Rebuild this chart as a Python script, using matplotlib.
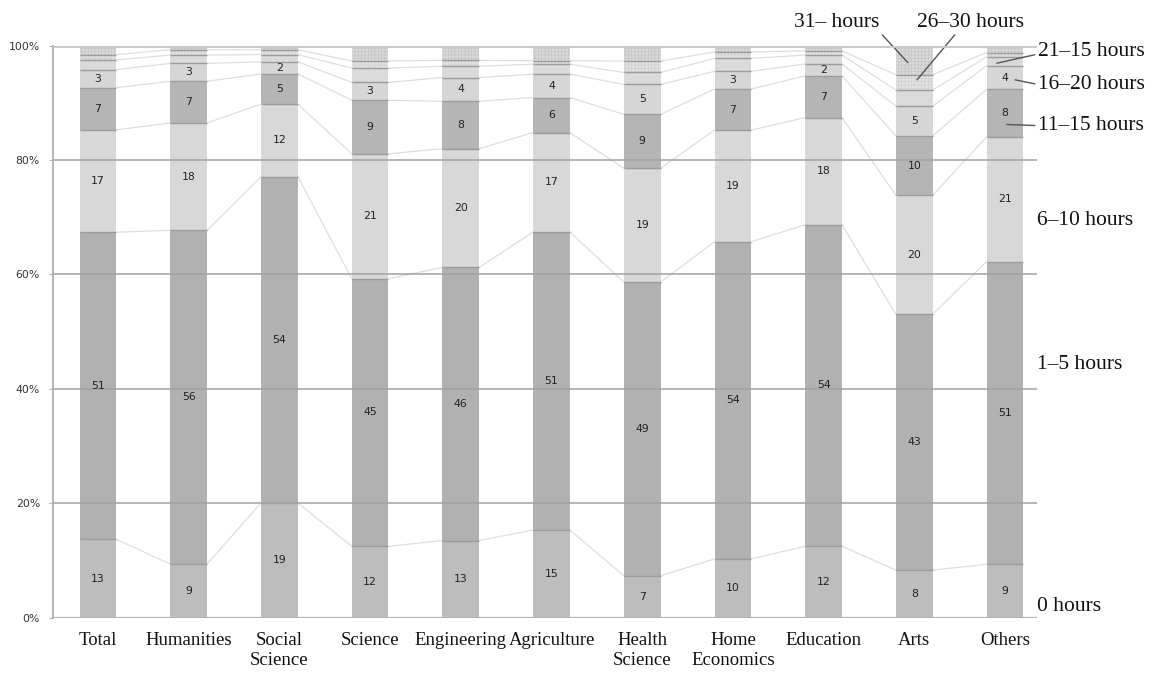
import matplotlib
matplotlib.use("Agg")
import matplotlib.pyplot as plt
import numpy as np
from matplotlib.transforms import blended_transform_factory

# ---- data ----
categories = ["Total", "Humanities", "Social\nScience", "Science", "Engineering",
              "Agriculture", "Health\nScience", "Home\nEconomics", "Education",
              "Arts", "Others"]
h0 = [13, 9, 19, 12, 13, 15, 7, 10, 12, 8, 9]
h1_5 = [51, 56, 54, 45, 46, 51, 49, 54, 54, 43, 51]
h6_10 = [17, 18, 12, 21, 20, 17, 19, 19, 18, 20, 21]
h11_15 = [7, 7, 5, 9, 8, 6, 9, 7, 7, 10, 8]
h16_20 = [3, 3, 2, 3, 4, 4, 5, 3, 2, 5, 4]
h21_25 = [1.6, 1.4, 1.2, 2.4, 1.9, 1.7, 2.0, 2.2, 1.5, 2.7, 1.5]
h26_30 = [0.9, 0.9, 0.8, 1.2, 1.0, 0.6, 1.9, 1.1, 0.7, 2.6, 0.7]
h31 = [1.5, 0.7, 0.7, 2.6, 2.5, 2.6, 2.6, 1.1, 0.9, 4.9, 1.2]
series_names = ["0 hours", "1\u20135 hours", "6\u201310 hours", "11\u201315 hours",
                "16\u201320 hours", "21\u201325 hours", "26\u201330 hours", "31\u2013 hours"]
yticks = [0, 20, 40, 60, 80, 100]
ytick_labels = ["0%", "20%", "40%", "60%", "80%", "100%"]

series = np.array([h0, h1_5, h6_10, h11_15, h16_20, h21_25, h26_30, h31], dtype=float)
pct = series / series.sum(axis=0) * 100.0
cum = np.cumsum(pct, axis=0)
bottoms = cum - pct

colors = ["#bdbdbd", "#b1b1b1", "#d8d8d8", "#b5b5b5", "#d6d6d6", "#dadada", "#e1e1e1", "#d8d8d8"]
hatches = [None, None, None, None, None, None, "+++++", "+++++"]
hatch_cols = [None] * 6 + ["#cfcfcf", "#c4c4c4"]

plt.rcParams["hatch.linewidth"] = 0.4
fig = plt.figure(figsize=(11.54, 6.73), dpi=100)
ax = fig.add_axes([52.5 / 1154, (673 - 617.7) / 673, 984.5 / 1154, 572.2 / 673])

x = np.arange(len(categories))
w = 0.405

for k in range(len(series)):
    kw = {}
    if hatches[k]:
        kw = dict(hatch=hatches[k], edgecolor=hatch_cols[k])
    ax.bar(x, pct[k], w, bottom=bottoms[k], color=colors[k], linewidth=0, zorder=2, **kw)
    # segment boundary lines
    if k < len(series) - 1:
        ax.hlines(cum[k], x - w / 2, x + w / 2, colors="#9c9c9c", linewidth=1.0, zorder=3)

# connector (series) lines
for k in range(len(series) - 1):
    for i in range(len(x) - 1):
        ax.plot([x[i] + w / 2, x[i + 1] - w / 2], [cum[k][i], cum[k][i + 1]],
                color="#dedede", linewidth=0.9, zorder=1)

# value labels
for k in range(5):
    for i in range(len(x)):
        ax.text(x[i], bottoms[k][i] + pct[k][i] / 2, f"{int(series[k][i])}",
                ha="center", va="center", fontsize=7.8, color="#222222",
                family="DejaVu Sans", zorder=5)

# grid lines
for yv in yticks[1:-1]:
    ax.axhline(yv, color="#a2a2a2", linewidth=1.1, zorder=4)
ax.axhline(100, color="#c8c8c8", linewidth=2.0, zorder=4)
ax.axhline(0, color="#b4b4b4", linewidth=1.6, zorder=4)

ax.set_xlim(-0.502, 10.353)
ax.set_ylim(0, 100)
for s in ["top", "right", "bottom"]:
    ax.spines[s].set_visible(False)
ax.spines["left"].set_color("#b4b4b4")
ax.spines["left"].set_linewidth(1.4)

ax.set_yticks(yticks)
ax.set_yticklabels(ytick_labels, fontsize=7.8, color="#333333", family="DejaVu Sans")
ax.tick_params(axis="y", length=3, color="#b4b4b4", pad=6)
ax.set_xticks(x)
ax.set_xticklabels(categories, fontsize=13.5, family="Liberation Serif",
                   linespacing=1.3, color="#111111")
ax.tick_params(axis="x", length=0, pad=10)

# right-side series labels
tr = blended_transform_factory(ax.transAxes, ax.transData)
lab_font = dict(fontsize=15.5, family="Liberation Serif", color="#111111")
ax.text(1.0, 69.4, series_names[2], transform=tr, ha="left", va="center", **lab_font)
ax.text(1.0, 44.2, series_names[1], transform=tr, ha="left", va="center", **lab_font)
ax.text(1.0, 1.9, series_names[0], transform=tr, ha="left", va="center", **lab_font)

arrow = dict(arrowstyle="-", color="#555555", lw=1.0, shrinkA=0, shrinkB=0)
ax.annotate("21\u201315 hours", xy=(9.91, 96.9), xytext=(10.36, 99.0), ha="left", va="center",
            arrowprops=dict(arrow, relpos=(0, 0.35)), annotation_clip=False, **lab_font)
ax.annotate(series_names[4], xy=(10.11, 94.0), xytext=(10.36, 93.2), ha="left", va="center",
            arrowprops=dict(arrow, relpos=(0, 0.5)), annotation_clip=False, **lab_font)
ax.annotate(series_names[3], xy=(10.02, 86.2), xytext=(10.36, 86.0), ha="left", va="center",
            arrowprops=dict(arrow, relpos=(0, 0.5)), annotation_clip=False, **lab_font)
ax.annotate(series_names[7], xy=(8.93, 97.0), xytext=(8.148, 104.0), ha="center", va="center",
            arrowprops=dict(arrow, relpos=(1.0, 0.0)), annotation_clip=False, **lab_font)
ax.annotate(series_names[6], xy=(9.03, 94.0), xytext=(9.625, 104.0), ha="center", va="center",
            arrowprops=dict(arrow, relpos=(0.37, 0.0)), annotation_clip=False, **lab_font)

fig.savefig("out.png", dpi=100)
